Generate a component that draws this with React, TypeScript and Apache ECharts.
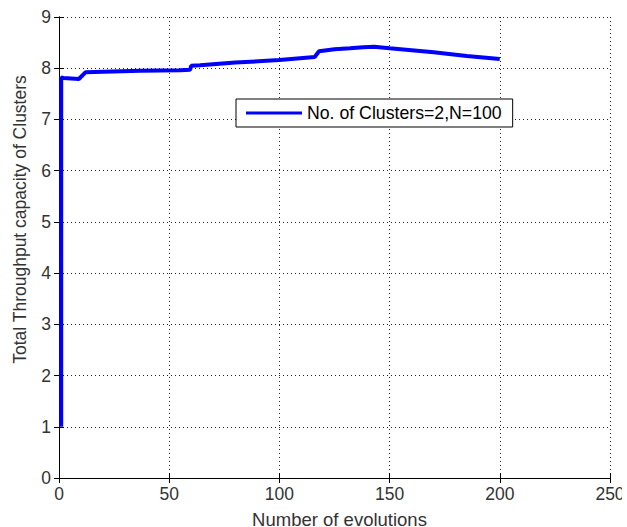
import React, { useEffect, useRef } from "react";
import * as echarts from "echarts";

const evolutions = [1, 1, 2, 9, 12, 20, 37, 55, 59.5, 60, 64, 80, 100, 116, 118, 125, 132, 138, 143, 150, 160, 170, 185, 200];
const throughput = [1, 7.82, 7.81, 7.79, 7.92, 7.93, 7.95, 7.96, 7.97, 8.05, 8.06, 8.11, 8.16, 8.22, 8.33, 8.37, 8.39, 8.41, 8.42, 8.39, 8.35, 8.31, 8.24, 8.18];
const seriesName = "No. of Clusters=2,N=100";
const xTitle = "Number of evolutions";
const yTitle = "Total Throughput capacity of Clusters";

const FONT = "'Liberation Sans', Arial, sans-serif";

export default function App() {
  const ref = useRef<HTMLDivElement>(null);
  useEffect(() => {
    if (!ref.current) return;
    const chart = echarts.init(ref.current, null, { renderer: "svg" });
    const data = evolutions.map((x, i) => [x, throughput[i]]);
    const axisLine = { show: true, lineStyle: { color: "#000", width: 1 } };
    const tick = { show: true, inside: true, length: 5, lineStyle: { color: "#000" } };
    const split = { show: true, lineStyle: { color: "#222", width: 1, type: [1, 3] } };
    chart.setOption({
      animation: false,
      backgroundColor: "#fff",
      textStyle: { fontFamily: FONT },
      grid: { left: 59, right: 12, top: 17, bottom: 49, containLabel: false, outerBoundsMode: "none" },
      legend: {
        show: true,
        left: 236,
        top: 99,
        orient: "horizontal",
        padding: [5, 11, 5, 10],
        borderColor: "#000",
        borderWidth: 1,
        backgroundColor: "#fff",
        itemWidth: 56,
        itemHeight: 14,
        textStyle: { fontFamily: FONT, fontSize: 17.7, color: "#000" },
        data: [{ name: seriesName, icon: "path://M0,5.5 L56,5.5 L56,8.5 L0,8.5 Z" }],
        itemStyle: { color: "#0000ff" },
      },
      xAxis: [
        {
          type: "value",
          min: 0,
          max: 250,
          interval: 50,
          position: "bottom",
          name: xTitle,
          nameLocation: "middle",
          nameGap: 32,
          nameTextStyle: { fontFamily: FONT, fontSize: 18.5, color: "#333", padding: [0, 0, 0, 10] },
          axisLine,
          axisTick: tick,
          axisLabel: { fontFamily: FONT, fontSize: 17.5, color: "#333", margin: 7 },
          splitLine: split,
        },
        {
          type: "value",
          min: 0,
          max: 250,
          interval: 50,
          position: "top",
          axisLine,
          axisTick: tick,
          axisLabel: { show: false },
          splitLine: { show: false },
        },
      ],
      yAxis: [
        {
          type: "value",
          min: 0,
          max: 9,
          interval: 1,
          position: "left",
          name: yTitle,
          nameLocation: "middle",
          nameRotate: 90,
          nameGap: 30,
          nameTextStyle: { fontFamily: FONT, fontSize: 17.5, color: "#333", padding: [0, 0, 0, 56] },
          axisLine,
          axisTick: tick,
          axisLabel: { fontFamily: FONT, fontSize: 17.5, color: "#333", margin: 8 },
          splitLine: split,
        },
        {
          type: "value",
          min: 0,
          max: 9,
          interval: 1,
          position: "right",
          axisLine,
          axisTick: tick,
          axisLabel: { show: false },
          splitLine: { show: false },
        },
      ],
      series: [
        {
          name: seriesName,
          type: "line",
          xAxisIndex: 0,
          yAxisIndex: 0,
          data,
          symbol: "none",
          showSymbol: false,
          lineStyle: { color: "#0000ff", width: 4 },
          itemStyle: { color: "#0000ff" },
        },
      ],
    });
    return () => chart.dispose();
  }, []);
  return (
    <div
      ref={ref}
      style={{ position: "absolute", left: 0, top: 0, width: 622, height: 527 }}
    />
  );
}
